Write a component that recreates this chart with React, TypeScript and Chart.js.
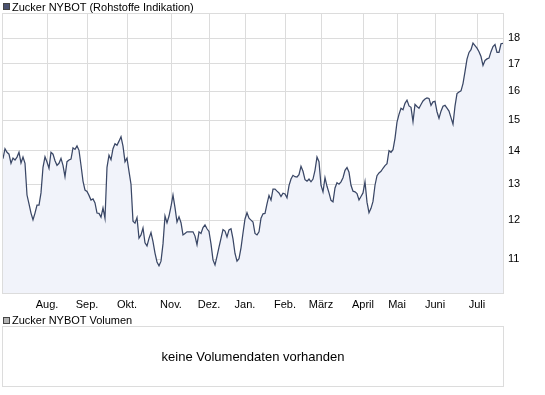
import React, { useEffect, useRef } from "react";
import { Chart, registerables } from "chart.js";

Chart.register(...registerables);

// Sugar price (NYBOT), one value per sampled trading step, oldest first
const prices: number[] = [
  13.76, 14.07, 13.96, 13.9, 13.62, 13.78, 13.72, 13.81, 13.96, 13.63,
  13.81, 13.62, 12.69, 12.44, 12.19, 12.01, 12.19, 12.41, 12.41, 12.75,
  13.5, 13.82, 13.66, 13.47, 13.96, 13.9, 13.7, 13.56, 13.62, 13.77,
  13.56, 13.22, 13.67, 13.72, 13.75, 14.1, 14.05, 14.16, 14.02, 13.56,
  13.09, 12.83, 12.79, 12.68, 12.55, 12.58, 12.47, 12.19, 12.18, 12.08,
  12.33, 12.05, 13.5, 13.87, 13.73, 14.07, 14.23, 14.18, 14.31, 14.45,
  14.15, 13.67, 13.78, 13.38, 13.0, 11.97, 11.92, 12.07, 11.53, 11.61,
  11.79, 11.41, 11.33, 11.52, 11.67, 11.44, 11.15, 10.93, 10.84, 10.95,
  11.38, 12.11, 11.93, 12.11, 12.37, 12.69, 12.34, 11.95, 12.09, 11.93,
  11.61, 11.65, 11.69, 11.69, 11.69, 11.69, 11.58, 11.36, 11.69, 11.65,
  11.8, 11.87, 11.77, 11.7, 11.38, 10.98, 10.86, 11.07, 11.3, 11.52,
  11.75, 11.71, 11.56, 11.74, 11.77, 11.51, 11.14, 10.95, 11.01, 11.28,
  11.66, 12.03, 12.2, 12.05, 12.0, 11.95, 11.65, 11.61, 11.69, 12.05,
  12.17, 12.18, 12.44, 12.68, 12.55, 12.86, 12.86, 12.8, 12.75, 12.65,
  12.74, 12.72, 12.61, 12.96, 13.15, 13.26, 13.22, 13.21, 13.28, 13.53,
  13.38, 13.13, 13.09, 13.15, 13.07, 13.15, 13.41, 13.81, 13.67, 12.97,
  12.78, 13.19, 12.94, 12.75, 12.54, 12.5, 12.89, 13.04, 13.0, 13.07,
  13.19, 13.41, 13.49, 13.35, 12.97, 12.8, 12.78, 12.73, 12.55, 12.65,
  12.75, 13.07, 12.49, 12.2, 12.32, 12.51, 12.97, 13.25, 13.33, 13.38,
  13.47, 13.55, 13.61, 14.01, 13.96, 14.04, 14.4, 14.93, 15.19, 15.4,
  15.35, 15.57, 15.68, 15.48, 15.43, 14.95, 15.53, 15.46, 15.4, 15.53,
  15.65, 15.72, 15.76, 15.74, 15.5, 15.62, 15.64, 15.28, 15.06, 15.3,
  15.47, 15.5, 15.4, 15.3, 15.08, 14.86, 15.47, 15.91, 15.97, 16.01,
  16.27, 16.71, 17.18, 17.44, 17.55, 17.81, 17.71, 17.61, 17.47, 17.28,
  16.94, 17.13, 17.19, 17.22, 17.47, 17.67, 17.75, 17.44, 17.44, 17.78,
  17.8,
];

// Month labels and the step index where each month begins
const monthLabels: string[] = ["Aug.", "Sep.", "Okt.", "Nov.", "Dez.", "Jan.", "Feb.", "März", "April", "Mai", "Juni", "Juli"];
const monthStarts: number[] = [22, 42, 62, 84, 103, 121, 141, 159, 180, 197, 216, 237];

// Y-axis tick values (log scale)
const yTicks: number[] = [11, 12, 13, 14, 15, 16, 17, 18];

const FONT = '"Liberation Sans", Arial, sans-serif';
const GRID = "#dcdcdc";

export default function App() {
  const ref = useRef<HTMLCanvasElement | null>(null);

  useEffect(() => {
    if (!ref.current) return;
    const borderPlugin = {
      id: "areaBorder",
      beforeDatasetsDraw(chart: any) {
        const { ctx, chartArea } = chart;
        ctx.save();
        ctx.strokeStyle = GRID;
        ctx.lineWidth = 1;
        ctx.strokeRect(
          Math.round(chartArea.left) - 0.5,
          Math.round(chartArea.top) - 0.5,
          Math.round(chartArea.right - chartArea.left) + 1,
          Math.round(chartArea.bottom - chartArea.top) + 1
        );
        ctx.restore();
      },
    };

    const chart = new Chart(ref.current, {
      type: "line",
      data: {
        datasets: [
          {
            label: "Zucker NYBOT (Rohstoffe Indikation)",
            data: prices.map((v, i) => ({ x: i, y: v })),
            borderColor: "#3a4766",
            backgroundColor: "#f1f3fa",
            borderWidth: 1.25,
            pointRadius: 0,
            tension: 0,
            fill: "start",
          },
        ],
      },
      options: {
        responsive: false,
        animation: false,
        devicePixelRatio: 1,
        layout: { padding: { left: 3, top: 14, right: 0, bottom: 0 } },
        plugins: { legend: { display: false }, tooltip: { enabled: false } },
        scales: {
          x: {
            type: "linear",
            min: 0,
            max: prices.length - 1,
            afterBuildTicks: (s: any) => {
              s.ticks = monthStarts.map((v) => ({ value: v }));
            },
            afterFit: (s: any) => {
              s.height = 22;
            },
            ticks: {
              autoSkip: false,
              maxRotation: 0,
              padding: 5,
              color: "#000",
              font: { family: FONT, size: 11 },
              callback: (v: any) => {
                const k = monthStarts.indexOf(Number(v));
                return k >= 0 ? monthLabels[k] : "";
              },
            },
            grid: { color: GRID, drawTicks: false },
            border: { display: false },
          },
          y: {
            type: "logarithmic",
            position: "right",
            min: 10.2,
            max: 19,
            afterBuildTicks: (s: any) => {
              s.ticks = yTicks.map((v) => ({ value: v }));
            },
            afterFit: (s: any) => {
              s.width = 42;
            },
            ticks: {
              autoSkip: false,
              padding: 5,
              color: "#000",
              font: { family: FONT, size: 11 },
              callback: (v: any) => String(v),
            },
            grid: { color: GRID, drawTicks: false },
            border: { display: false },
          },
        },
      },
      plugins: [borderPlugin],
    });
    return () => chart.destroy();
  }, []);

  const square = (bg: string): React.CSSProperties => ({
    position: "absolute",
    width: 5,
    height: 5,
    background: bg,
    border: "1px solid #444",
  });

  return (
    <div
      style={{
        position: "fixed",
        left: 0,
        top: 0,
        width: 545,
        height: 395,
        background: "#fff",
        fontFamily: FONT,
        color: "#000",
        overflow: "hidden",
      }}
    >
      <canvas ref={ref} width={545} height={315} style={{ position: "absolute", left: 0, top: 0 }} />
      <div style={{ ...square("#4a5270"), left: 3, top: 3 }} />
      <div style={{ position: "absolute", left: 12, top: 0, fontSize: 11, lineHeight: "14px", whiteSpace: "nowrap" }}>
        Zucker NYBOT (Rohstoffe Indikation)
      </div>
      <div style={{ ...square("#b4b4b4"), left: 3, top: 317 }} />
      <div style={{ position: "absolute", left: 12, top: 313, fontSize: 11, lineHeight: "14px", whiteSpace: "nowrap" }}>
        Zucker NYBOT Volumen
      </div>
      <div
        style={{
          position: "absolute",
          left: 2,
          top: 326,
          width: 500,
          height: 59,
          border: "1px solid " + GRID,
          display: "flex",
          alignItems: "center",
          justifyContent: "center",
          fontSize: 13,
        }}
      >
        keine Volumendaten vorhanden
      </div>
    </div>
  );
}
